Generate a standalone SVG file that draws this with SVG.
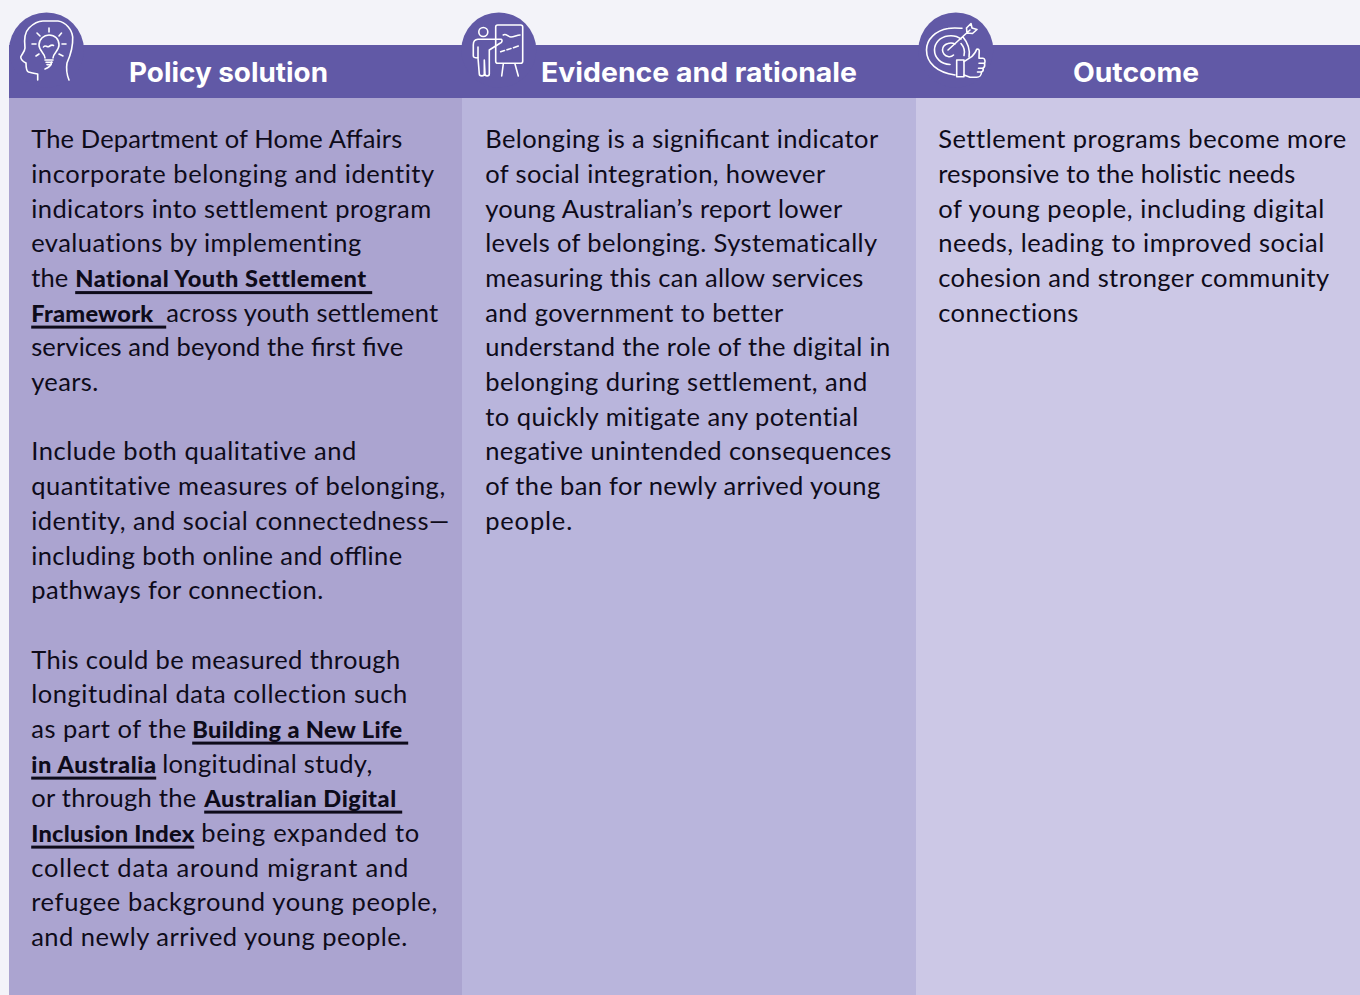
<svg xmlns="http://www.w3.org/2000/svg" width="1360" height="995" viewBox="0 0 1360 995">
<style>
text{font-family:"Lato","Noto Sans",sans-serif;fill:#0e0b1a;font-feature-settings:"liga" 0}
.b{font-size:25.5px}
.l{font-feature-settings:"liga" 1}
.s{font-weight:900;font-size:23.6px}
.h{font-family:"Inter","Lato",sans-serif;font-weight:700;font-size:27px;fill:#fff}
.ic{fill:none;stroke:#fff;stroke-width:1.6;stroke-linecap:round;stroke-linejoin:round}
.u{fill:#0e0b1a}
</style>
<rect width="1360" height="995" fill="#f3f3f9"/>
<g id="col1"><rect x="9" y="97" width="453" height="898" fill="#aba4d0"/></g>
<g id="col2"><rect x="462" y="97" width="454" height="898" fill="#b9b5dc"/></g>
<g id="col3"><rect x="916" y="97" width="444" height="898" fill="#ccc8e6"/></g>
<g id="header">
<rect x="9" y="45" width="1351" height="53" fill="#6159a6"/>
<circle cx="46.500" cy="50" r="37.500" fill="#6159a6"/>
<circle cx="498.800" cy="50" r="37.500" fill="#6159a6"/>
<circle cx="955.800" cy="50" r="37.500" fill="#6159a6"/>
</g>
<g id="icon-policy" class="ic">
<path d="M37.700 80V74C34 73.500 31 72.500 28.500 72C26 71 26 67 26 63C24 62 21 60 20.700 57C22 54 25 51 25 48C24 40 24 33 29 28C33 24 38 21 43 21H58C66 22 72 30 72.700 37C73 44 71 54 67 63C66 69 67 75 69 80"/>
<path d="M45 69C48 68 51 66 51.700 62"/>
<path d="M45 60H53M46 62.300H52M47 64.600H51"/>
<path d="M45 58C45 53 39 51 39 45C39 39 44 35 49 35C55 35 59 39 59 45C59 51 53 53 53 58"/>
<path d="M43.500 47C45 44 47 48 49 46.500C50.500 45.500 52 44.500 53.500 45.500"/>
<path d="M49 28V32M37 33L40 36M61.500 33L59 36M32 44H36M62 44H66M36 56L39 54M63 56L59 54"/>
</g>
<g id="icon-evidence" class="ic">
<circle cx="483.300" cy="32" r="4.500"/>
<path d="M501 39.300H478C475 39.500 473.300 42 473.300 45V56C473.300 57.500 476 58 478.300 58M478 47V58L479.300 74C479.300 76.500 484.300 76.500 484.300 74V60M484.300 60L485 74C485 76.500 489.300 76.500 489.300 74V50L500 43.300C502.500 42.500 502.500 39.500 501 39.300"/>
<rect x="495.700" y="25" width="27" height="38.300" rx="2"/>
<path d="M503.300 35C506 33 508 37 511 37C514 37 517 35 520 35M500.700 51.700L504.500 50.500M507 49.800L511 48.500M513.500 47.700L518.300 46M503.300 64L501.700 76M515 64L518.300 76"/>
</g>
<g id="icon-outcome" class="ic">
<path d="M962 28.300C957.500 28 953 27.500 948 28.500C936 30.500 926.500 39 926.500 50C926.500 63 937 72.500 955 75"/>
<path d="M961 39C957 36 952 35.500 948 36C940 37 934.500 43 934.500 50C934.500 58 941 64 950 64.500"/>
<path d="M955 44C953 43 951 42.500 948 43.500C944.500 44.500 942.500 47 942.500 50C942.500 53 945 56 948 56.500C950 57 952 56.500 953.500 55"/>
<path d="M948 50L970 30M967 33L966.500 28L971 23.500L972 28M972 28L977 29.500L972.500 33.500L967 33M963 37C968 43 970 51 969 57M961 43.500C964 47 965 52 964 55.500"/>
<rect x="956.700" y="60" width="7.300" height="16.700"/>
<path d="M964 61.700L971.700 56.700C974 54 976 52 976.700 49.300C978.500 48.500 979.500 50 979.200 52L979 58.300H983C985 58.500 985.500 61.500 984.500 63.300C985 65.500 984.500 67.500 983 68.300C983.500 70 983 71.500 981.500 72C981.500 75 979.500 77.300 976.700 77.300H970L964 75"/>
<path d="M979 63.300H984.500M978.500 68.300H983M977.500 72H981.500"/>
</g>
<g id="headings">
<text class="h" x="129" y="82" textLength="199" lengthAdjust="spacingAndGlyphs">Policy solution</text>
<text class="h" x="541" y="82" textLength="316" lengthAdjust="spacingAndGlyphs">Evidence and rationale</text>
<text class="h" x="1073" y="82" textLength="126" lengthAdjust="spacingAndGlyphs">Outcome</text>
</g>
<g transform="translate(0.2 0.6)">
<g id="body-policy">
<text class="b l" x="31" y="147" textLength="371">The Department of Home Affairs</text>
<text class="b" x="31" y="182" textLength="403">incorporate belonging and identity</text>
<text class="b" x="31" y="217" textLength="400">indicators into settlement program</text>
<text class="b" x="31" y="251" textLength="330">evaluations by implementing</text>
<text class="b" x="31" y="286" textLength="37">the</text>
<text class="s" x="75" y="286" textLength="291">National Youth Settlement</text>
<rect class="u" x="75" y="290.500" width="297" height="3"/>
<text class="s" x="31" y="321" textLength="122">Framework</text>
<rect class="u" x="31" y="325" width="135" height="3"/>
<text class="b" x="166" y="321" textLength="272">across youth settlement</text>
<text class="b l" x="31" y="355" textLength="372">services and beyond the first five</text>
<text class="b" x="31" y="390" textLength="67">years.</text>
<text class="b" x="31" y="459" textLength="325">Include both qualitative and</text>
<text class="b" x="31" y="494" textLength="414">quantitative measures of belonging,</text>
<text class="b" x="31" y="529" textLength="418">identity, and social connectedness—</text>
<text class="b l" x="31" y="564" textLength="371">including both online and offline</text>
<text class="b" x="31" y="598" textLength="292">pathways for connection.</text>
<text class="b" x="31" y="668" textLength="369">This could be measured through</text>
<text class="b" x="31" y="702" textLength="376">longitudinal data collection such</text>
<text class="b" x="31" y="737" textLength="155">as part of the</text>
<text class="s" x="192" y="737" textLength="210">Building a New Life</text>
<rect class="u" x="192" y="741" width="216" height="3"/>
<text class="s" x="31" y="772" textLength="125">in Australia</text>
<rect class="u" x="31" y="776" width="125" height="3"/>
<text class="b" x="162" y="772" textLength="210">longitudinal study,</text>
<text class="b" x="31" y="806" textLength="165">or through the</text>
<text class="s" x="204" y="806" textLength="192">Australian Digital</text>
<rect class="u" x="204" y="810" width="198" height="3"/>
<text class="s" x="31" y="841" textLength="163">Inclusion Index</text>
<rect class="u" x="31" y="845" width="163" height="3"/>
<text class="b" x="201" y="841" textLength="218">being expanded to</text>
<text class="b" x="31" y="876" textLength="377">collect data around migrant and</text>
<text class="b" x="31" y="910" textLength="406">refugee background young people,</text>
<text class="b" x="31" y="945" textLength="376">and newly arrived young people.</text>
</g>
<g id="body-evidence">
<text class="b l" x="485" y="147" textLength="393">Belonging is a significant indicator</text>
<text class="b" x="485" y="182" textLength="340">of social integration, however</text>
<text class="b" x="485" y="217" textLength="357">young Australian’s report lower</text>
<text class="b" x="485" y="251" textLength="392">levels of belonging. Systematically</text>
<text class="b" x="485" y="286" textLength="378">measuring this can allow services</text>
<text class="b" x="485" y="321" textLength="298">and government to better</text>
<text class="b" x="485" y="355" textLength="405">understand the role of the digital in</text>
<text class="b" x="485" y="390" textLength="382">belonging during settlement, and</text>
<text class="b" x="485" y="425" textLength="373">to quickly mitigate any potential</text>
<text class="b" x="485" y="459" textLength="406">negative unintended consequences</text>
<text class="b" x="485" y="494" textLength="395">of the ban for newly arrived young</text>
<text class="b" x="485" y="529" textLength="87">people.</text>
</g>
<g id="body-outcome">
<text class="b" x="938" y="147" textLength="408">Settlement programs become more</text>
<text class="b" x="938" y="182" textLength="357">responsive to the holistic needs</text>
<text class="b" x="938" y="217" textLength="386">of young people, including digital</text>
<text class="b" x="938" y="251" textLength="386">needs, leading to improved social</text>
<text class="b" x="938" y="286" textLength="391">cohesion and stronger community</text>
<text class="b" x="938" y="321" textLength="140">connections</text>
</g>
</g>
</svg>
